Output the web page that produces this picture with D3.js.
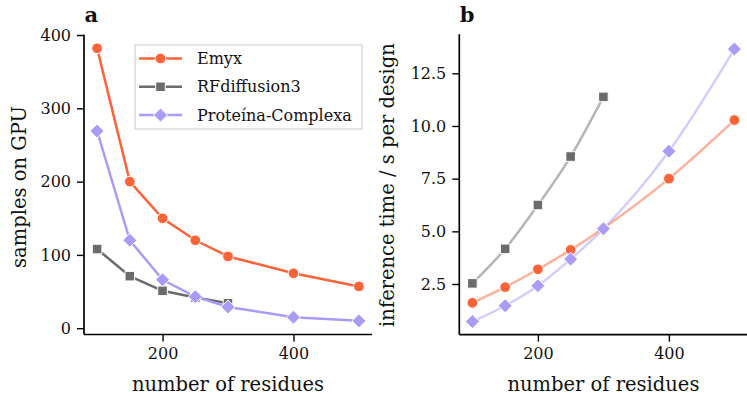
<!DOCTYPE html>
<html>
<head>
<meta charset="utf-8">
<script src="https://cdn.jsdelivr.net/npm/d3@7"></script>
<style>
  html, body { margin: 0; padding: 0; background: #fff; }
  svg text { font-family: 'DejaVu Serif', serif; fill: #111; }
</style>
</head>
<body>
<svg id="chart" width="747" height="397"></svg>
<script>
const residues = [100, 150, 200, 250, 300, 400, 500];
const seriesNames = ['Emyx', 'RFdiffusion3', 'Proteína-Complexa'];

// panel a: samples that fit on one GPU
const samplesEmyx = [382, 200, 150, 120, 98, 75, 57];
const samplesRF = [108, 71, 51, 42, 34];
const samplesComplexa = [269, 120, 66, 43, 29, 15, 10];

// panel b: inference time (s per design)
const timeEmyx = [1.61, 2.35, 3.2, 4.12, 5.15, 7.5, 10.28];
const timeRF = [2.53, 4.17, 6.25, 8.55, 11.38];
const timeComplexa = [0.72, 1.47, 2.42, 3.68, 5.12, 8.8, 13.65];

const yTicksA = [0, 100, 200, 300, 400];
const yTicksB = [2.5, 5.0, 7.5, 10.0, 12.5];
const xTicks = [200, 400];

const colors = { 'Emyx': '#fa6438', 'RFdiffusion3': '#6b6b6b', 'Proteína-Complexa': '#aa9cf6' };

// matplotlib-like markers: circle, square, square diamond
function markerPath(name) {
  if (name === 'Emyx') return d3.symbol().type(d3.symbolCircle).size(90)();
  if (name === 'RFdiffusion3') return d3.symbol().type(d3.symbolSquare).size(92)();
  const r = 7;
  return `M0,${-r}L${r},0L0,${r}L${-r},0Z`;
}

const svg = d3.select('#chart');

function toPoints(vals) {
  return vals.map((v, i) => ({ x: residues[i], y: v }));
}

function drawPanel(opts) {
  const g = svg.append('g');
  const x = d3.scaleLinear().domain([80, 520]).range(opts.xRange);
  const y = d3.scaleLinear().domain(opts.yDomain).range([opts.bottom, opts.top]);

  const xAxis = g.append('g')
    .attr('transform', `translate(0,${opts.bottom})`)
    .call(d3.axisBottom(x).tickValues(xTicks).tickSize(7).tickPadding(6).tickFormat(d3.format('d')));
  const yAxis = g.append('g')
    .attr('transform', `translate(${opts.xRange[0]},0)`)
    .call(d3.axisLeft(y).tickValues(opts.yTicks).tickSize(7).tickPadding(6).tickFormat(opts.fmt));

  [xAxis, yAxis].forEach(ax => {
    ax.select('.domain').attr('stroke', '#000').attr('stroke-width', 1.7);
    ax.selectAll('.tick line').attr('stroke', '#000').attr('stroke-width', 1.4);
    ax.selectAll('.tick text').style('font-size', '16px').attr('fill', '#111');
  });
  xAxis.select('.domain').attr('d', `M${opts.xRange[0]},0H${opts.xRange[1]}`);
  yAxis.select('.domain').attr('d', `M0,${opts.bottom}V${opts.top}`);

  const line = d3.line().x(d => x(d.x)).y(d => y(d.y)).curve(opts.curve);

  opts.series.forEach(s => {
    g.append('path')
      .datum(toPoints(s.values))
      .attr('fill', 'none')
      .attr('stroke', colors[s.name])
      .attr('stroke-opacity', opts.lineOpacity)
      .attr('stroke-width', 2.5)
      .attr('d', line);
  });
  opts.series.forEach(s => {
    g.selectAll(null)
      .data(toPoints(s.values))
      .enter().append('path')
      .attr('transform', d => `translate(${x(d.x)},${y(d.y)})`)
      .attr('d', markerPath(s.name))
      .attr('fill', colors[s.name])
      .attr('stroke', '#fff')
      .attr('stroke-width', 1);
  });

  g.append('text')
    .attr('x', (opts.xRange[0] + opts.xRange[1]) / 2 + opts.xLabelShift)
    .attr('y', 391)
    .attr('text-anchor', 'middle')
    .style('font-size', '19.5px')
    .text('number of residues');
  g.append('text')
    .attr('transform', `translate(${opts.yLabelX},${opts.yLabelY}) rotate(-90)`)
    .attr('text-anchor', 'middle')
    .style('font-size', '19.5px')
    .text(opts.yLabel);
  g.append('text')
    .attr('x', opts.xRange[0] + 0.5)
    .attr('y', 22)
    .style('font-size', '21px')
    .style('font-weight', 'bold')
    .text(opts.letter);
  return g;
}

const gA = drawPanel({
  xRange: [84, 372], top: 34.6, bottom: 334.5,
  yDomain: [-8.6, 400.6], yTicks: yTicksA, fmt: d3.format('d'),
  yLabel: 'samples on GPU', yLabelX: 26, yLabelY: 187, xLabelShift: 0,
  letter: 'a', curve: d3.curveLinear, lineOpacity: 1,
  series: [
    { name: 'RFdiffusion3', values: samplesRF },
    { name: 'Emyx', values: samplesEmyx },
    { name: 'Proteína-Complexa', values: samplesComplexa }
  ]
});

drawPanel({
  xRange: [459.3, 747.5], top: 34.3, bottom: 334.6,
  yDomain: [0.1, 14.35], yTicks: yTicksB, fmt: d3.format('.1f'),
  yLabel: 'inference time / s per design', yLabelX: 394, yLabelY: 185, xLabelShift: 0,
  letter: 'b', curve: d3.curveMonotoneX, lineOpacity: 0.5,
  series: [
    { name: 'RFdiffusion3', values: timeRF },
    { name: 'Emyx', values: timeEmyx },
    { name: 'Proteína-Complexa', values: timeComplexa }
  ]
});

// legend in panel a
const legend = gA.append('g').attr('transform', 'translate(135,45)');
legend.append('rect')
  .attr('width', 227).attr('height', 84)
  .attr('fill', '#fff').attr('fill-opacity', 0.8)
  .attr('stroke', '#d6d6d6').attr('stroke-width', 1.3);
const item = legend.selectAll('.legend-item')
  .data(seriesNames)
  .enter().append('g')
  .attr('class', 'legend-item')
  .attr('transform', (d, i) => `translate(0,${13.5 + i * 28.3})`);
item.append('line')
  .attr('x1', 4).attr('x2', 47)
  .attr('stroke', d => colors[d]).attr('stroke-width', 2.5);
item.append('path')
  .attr('transform', 'translate(25.5,0)')
  .attr('d', d => markerPath(d))
  .attr('fill', d => colors[d])
  .attr('stroke', '#fff').attr('stroke-width', 1);
item.append('text')
  .attr('x', 62).attr('dy', '0.35em')
  .style('font-size', '16px')
  .text(d => d);
</script>
</body>
</html>
